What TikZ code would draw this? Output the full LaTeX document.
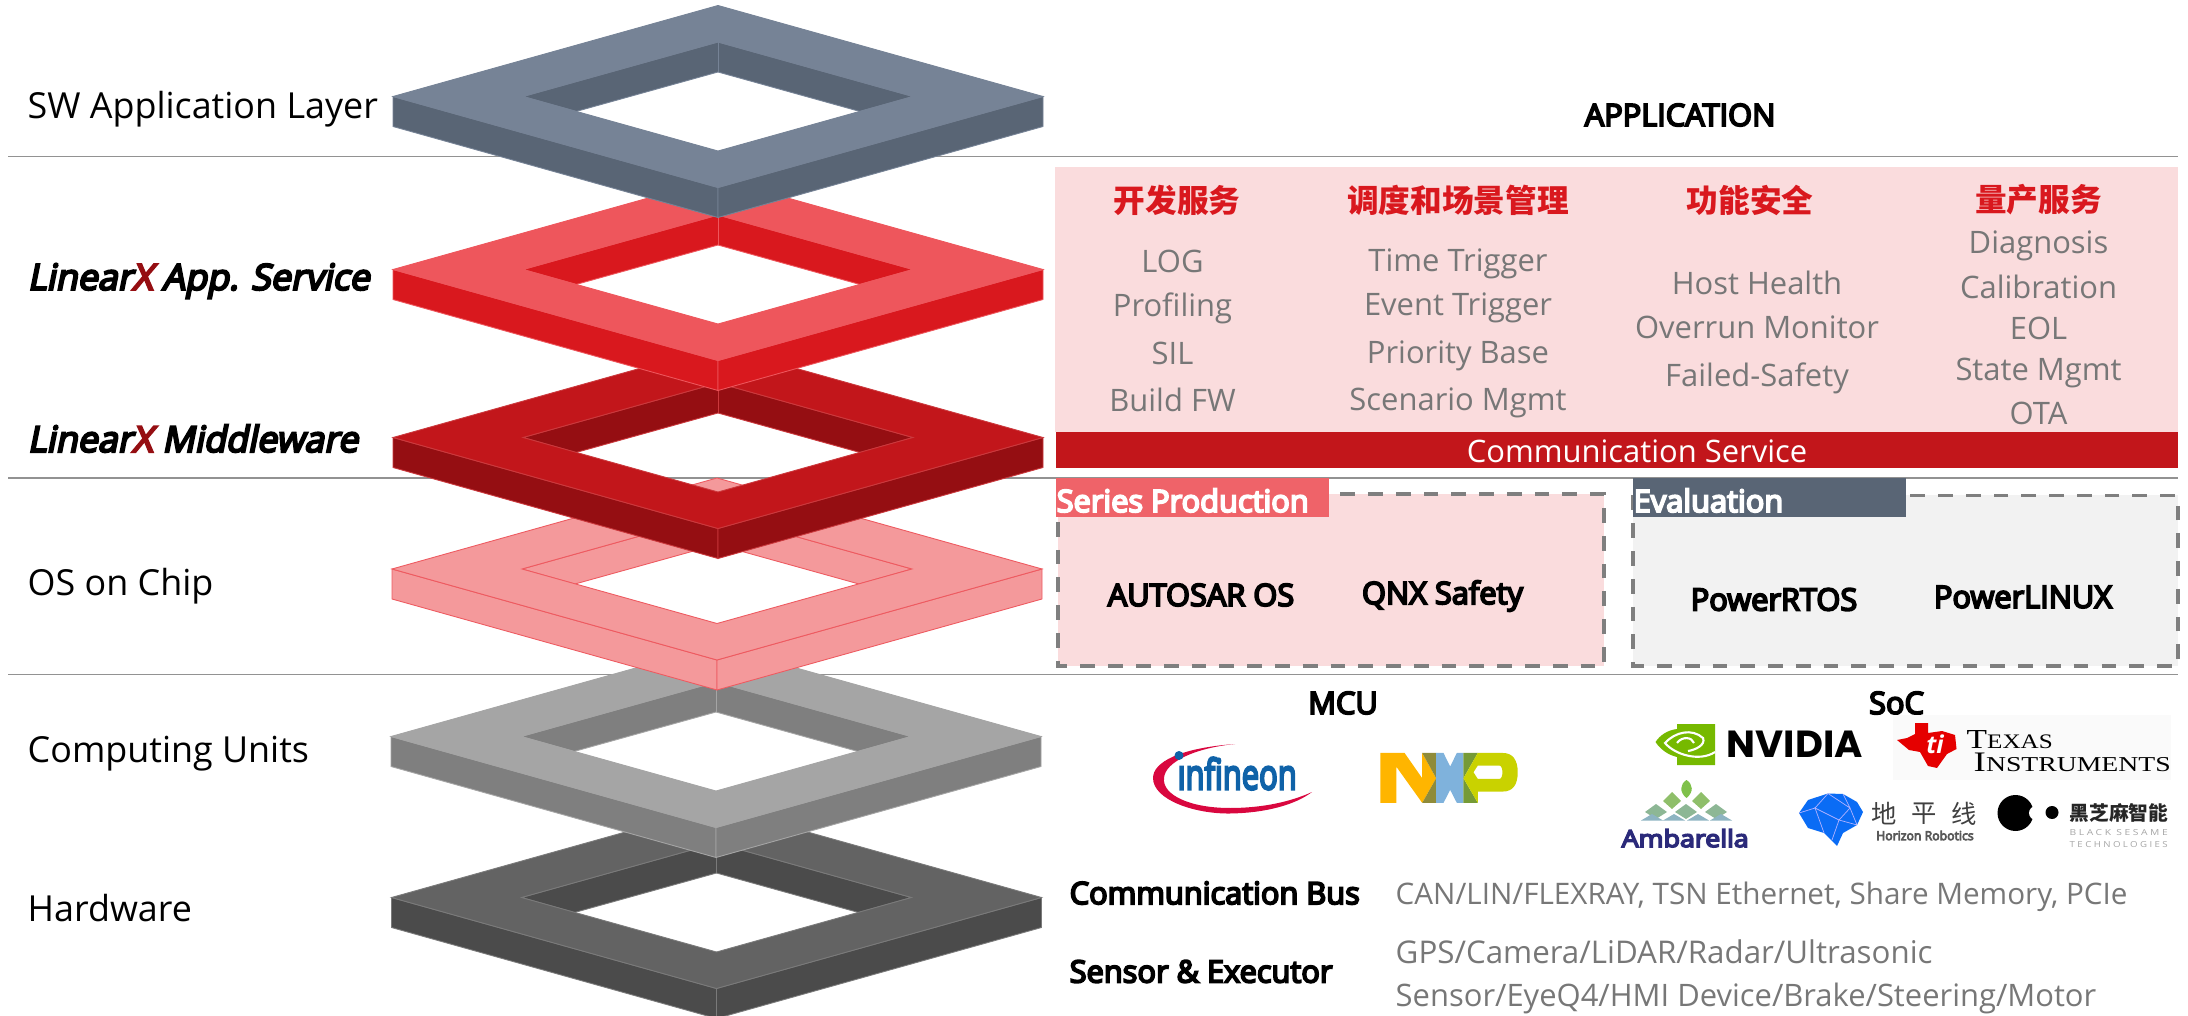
\documentclass[tikz,border=0pt]{standalone}
\usepackage{fontspec}
\usepackage{graphicx}
\setmainfont{Open Sans}
\newfontfamily\cjk{Noto Sans CJK SC}
\newfontfamily\logoserif{Liberation Serif}
\newfontfamily\logowide{Poppins}
\newfontfamily\logotrack[LetterSpace=25]{Open Sans}
\newfontfamily\fakebold[FakeBold=6]{Open Sans}
\newfontfamily\fakeslant[FakeBold=6,FakeSlant=0.2]{Open Sans}
\definecolor{slatetop}{HTML}{768396}
\definecolor{slateside}{HTML}{596575}
\definecolor{redtop}{HTML}{EE565C}
\definecolor{redside}{HTML}{D9181E}
\definecolor{darktop}{HTML}{C2161B}
\definecolor{darkside}{HTML}{950E12}
\definecolor{pinktop}{HTML}{F4999B}
\definecolor{pinkedge}{HTML}{EE5A60}
\definecolor{greytop}{HTML}{A5A5A5}
\definecolor{greyside}{HTML}{7F7F7F}
\definecolor{coaltop}{HTML}{636363}
\definecolor{coalside}{HTML}{4B4B4B}
\definecolor{panelpink}{HTML}{FADCDD}
\definecolor{panelgrey}{HTML}{F2F2F2}
\definecolor{itemgrey}{HTML}{777777}
\definecolor{tabred}{HTML}{EF6369}
\definecolor{nxporange}{HTML}{FFB500}
\definecolor{nxpolive}{HTML}{8F8B3A}
\definecolor{nxpblue}{HTML}{7FB2DC}
\definecolor{nxpgreen}{HTML}{759A36}
\definecolor{nxplime}{HTML}{C9D200}
\definecolor{infred}{HTML}{D9073F}
\definecolor{infblue}{HTML}{0F62A8}
\definecolor{nvgreen}{HTML}{76B900}
\definecolor{ambnavy}{HTML}{2B2A7A}
\definecolor{ambtop}{HTML}{7FC14A}
\definecolor{ambmid}{HTML}{8FBF6A}
\definecolor{ambrow}{HTML}{8DB795}
\definecolor{ambbase}{HTML}{8DB4C2}
\definecolor{horblue}{HTML}{0A6CF5}
\newlength\pxu
\setlength\pxu{0.01cm}
\newcommand{\logotext}[3]{\resizebox{#1\pxu}{#2\pxu}{#3}}
% one ring: centre x, centre y, top colour, side colour, edge colour
\newcommand{\ringlayer}[5]{%
	\begin{scope}[shift={(#1,#2)},line width=.25pt,draw=#5]
		\filldraw[fill=#4] (-195,0)--(0,-54.5)--(195,0)--(142,15)--(0,-24.5)--(-142,15)--cycle;
		\draw (0,-54.5)--(0,-24.5);
		\filldraw[fill=#4] (-325,0)--(0,91)--(0,121)--(-325,30)--cycle;
		\filldraw[fill=#4] (325,0)--(0,91)--(0,121)--(325,30)--cycle;
		\filldraw[fill=#3,even odd rule] (-325,0)--(0,-91)--(325,0)--(0,91)--cycle (-195,0)--(0,-54.5)--(195,0)--(0,54.5)--cycle;
	\end{scope}}
\tikzset{
	layername/.style={anchor=west,inner sep=0pt,font=\fontsize{10.2}{12}\selectfont},
	layerbold/.style={layername,font=\fontsize{10.2}{12}\selectfont\fakeslant},
	item/.style={inner sep=0pt,text=itemgrey,font=\fontsize{8.8}{11}\selectfont},
	head/.style={inner sep=0pt,text=redside,font=\fontsize{9}{11}\selectfont\cjk\bfseries},
	strong/.style={inner sep=0pt,font=\fontsize{8.75}{11}\selectfont\fakebold},
	tabtext/.style={anchor=west,inner sep=0pt,text=white,font=\fontsize{8.75}{11}\selectfont\fakebold},
	dashbox/.style={draw=greyside,line width=1pt,dash pattern=on 4.2pt off 3.7pt},
	logo/.style={anchor=south west,inner sep=0pt}
}
\begin{document}
\begin{tikzpicture}[x=0.01cm,y=-0.01cm]
	\useasboundingbox (0,0) rectangle (2188,1016);
	%LINES
	\draw[greyside!85,line width=.5pt] (8,156.5)--(2178,156.5);
	\draw[greyside!85,line width=.5pt] (8,478)--(2178,478);
	\draw[greyside!85,line width=.5pt] (8,674.5)--(2178,674.5);
	%RINGS, lowest first
	\begin{scope}
		\clip (0,0) rectangle (2188,1016);
		\ringlayer{716.5}{897.5}{coaltop}{coalside}{coaltop!85!white}
	\end{scope}
	\ringlayer{716}{736.5}{greytop}{greyside}{greytop}
	\ringlayer{717}{569}{pinktop}{pinktop}{pinkedge}
	\ringlayer{718}{437.5}{darktop}{darkside}{darktop!85!white}
	\ringlayer{718}{269.5}{redtop}{redside}{redtop}
	\ringlayer{718}{96.5}{slatetop}{slateside}{slatetop}
	%LEFT NAMES
	\node[layername] (swname) at (27,109.5) {SW Application Layer};
	\node[layerbold] (appname) at (27,281) {Linear{\color{darkside}X} App. Service};
	\node[layerbold] (midname) at (27,438.5) {Linear{\color{darkside}X} Middleware};
	\node[layername] (osname) at (27,586.5) {OS on Chip};
	\node[layername] (cuname) at (27,753.5) {Computing Units};
	\node[layername] (hwname) at (27,908) {Hardware};
	%APPLICATION
	\node[strong] (apptitle) at (1680,115) {APPLICATION};
	%SERVICES
	\fill[panelpink] (1055,167) rectangle (2178,432);
	\fill[darktop] (1056,432) rectangle (2178,468.5);
	\node[inner sep=0pt,text=white,font=\fontsize{8.8}{11}\selectfont] (commsrv) at (1637,451) {Communication Service};
	\node[head] (headdev) at (1177,200) {开发服务};
	\node[head] (headsched) at (1458,200) {调度和场景管理};
	\node[head] (headsafe) at (1750,200) {功能安全};
	\node[head] (headprod) at (2038.5,200) {量产服务};
	\node[item] (log) at (1172.5,261.5) {LOG};
	\node[item] (prof) at (1172.5,308) {Profiling};
	\node[item] (sil) at (1172.5,353.5) {SIL};
	\node[item] (build) at (1172.5,399.5) {Build FW};
	\node[item] (timetrig) at (1458,264) {Time Trigger};
	\node[item] (eventtrig) at (1458,307.5) {Event Trigger};
	\node[item] (prio) at (1458,356) {Priority Base};
	\node[item] (scen) at (1458,403) {Scenario Mgmt};
	\node[item] (host) at (1757,283) {Host Health};
	\node[item] (overrun) at (1757,327.5) {Overrun Monitor};
	\node[item] (failed) at (1757,378.5) {Failed-Safety};
	\node[item] (diag) at (2038.5,246) {Diagnosis};
	\node[item] (calib) at (2038.5,286.5) {Calibration};
	\node[item] (eol) at (2038.5,328.5) {EOL};
	\node[item] (state) at (2038.5,373) {State Mgmt};
	\node[item] (ota) at (2038.5,413) {OTA};
	%OS BOXES
	\filldraw[fill=panelpink,dashbox] (1058,494) rectangle (1604,666);
	\fill[tabred] (1056,478) rectangle (1329,517);
	\node[tabtext] (seriestab) at (1056,500.5) {Series Production};
	\node[strong] (autosar) at (1201,595) {AUTOSAR OS};
	\node[strong] (qnx) at (1442.5,596) {QNX Safety};
	\filldraw[fill=panelgrey,dashbox] (1633,495.5) rectangle (2178,666);
	\fill[slateside] (1633,478) rectangle (1906,517);
	\node[tabtext] (evaltab) at (1633,500.5) {Evaluation};
	\node[strong] (rtos) at (1774,599.5) {PowerRTOS};
	\node[strong] (linux) at (2023,597) {PowerLINUX};
	%CHIPS
	\node[strong] (mcu) at (1343,703) {MCU};
	\node[strong] (soc) at (1896.5,703) {SoC};
	%infineon
	\fill[infred] (1235,744) .. controls (1180,748) and (1153,762) .. (1153,778) .. controls (1153,800) and (1195,814) .. (1230,813.5) .. controls (1265,813) and (1295,805) .. (1312,792) .. controls (1290,802) and (1262,808) .. (1230,808) .. controls (1190,808) and (1162,795) .. (1164,778) .. controls (1165,762) and (1195,748) .. (1235,744) -- cycle;
	\fill[infblue] (1179,755.5) circle (4.5);
	\node[logo,text=infblue] (infineon) at (1177,790.5) {\logotext{119}{32}{\fakebold ınfineon}};
	%NXP
	\begin{scope}[shift={(1130,725)},x=0.00333cm,y=-0.00333cm]
		\fill[nxporange] (752,84)--(825,84)--(878,160)--(878,84)--(920,160)--(878,234)--(800,125)--(800,234)--(752,234)--cycle;
		\fill[nxpolive] (878,84)--(920,84)--(920,160)--cycle (878,234)--(920,160)--(920,234)--cycle;
		\fill[nxpblue] (920,84)--(942,84)--(962,125)--(982,84)--(1002,84)--(1002,234)--(982,234)--(962,195)--(942,234)--(920,234)--cycle;
		\fill[nxpgreen] (1002,84)--(1045,84)--(1002,160)--cycle (1002,160)--(1045,234)--(1002,234)--cycle;
		\fill[nxplime,even odd rule] (1002,160)--(1045,84)--(1120,84) .. controls (1150,84) and (1165,105) .. (1165,142) .. controls (1165,180) and (1150,200) .. (1120,200)--(1045,200)--(1045,234)--cycle (1045,122)--(1110,122) .. controls (1122,122) and (1122,162) .. (1110,162)--(1045,162)--(1032,142)--cycle;
	\end{scope}
	%NVIDIA
	\fill[nvgreen] (1677,724)--(1715,724)--(1715,765)--(1677,765)--(1677,757) .. controls (1668,755) and (1660,749) .. (1655.5,742) .. controls (1660,735) and (1668,730) .. (1677,729)--cycle;
	\draw[white,line width=.6pt] (1715,752) .. controls (1700,762) and (1675,755) .. (1665,743) .. controls (1675,732) and (1692,728) .. (1703,738) .. controls (1706,745) and (1695,750) .. (1688,751);
	\draw[white,line width=.6pt] (1677,743) .. controls (1682,736) and (1692,737) .. (1694,743);
	\node[logo] (nvidia) at (1726,758.5) {\logotext{136}{26.5}{\logowide\bfseries NVIDIA}};
	%TI
	\fill[black!2] (1893,715) rectangle (2171,779.5);
	\fill[red!90!black] (1915,723)--(1928,723)--(1928,733)--(1942,731)--(1955,735)--(1956.5,749)--(1947,754)--(1937,768)--(1928,766)--(1920,752)--(1909,750)--(1897,740)--(1907,738)--(1915,734)--cycle;
	\node[inner sep=0pt,text=white,font=\fontsize{7}{8}\selectfont\bfseries\itshape] (tilogo) at (1935,744) {ti};
	\node[logo] (texas) at (1966,749) {\logotext{86}{18}{\logoserif T{\fontsize{7.5}{8}\selectfont EXAS}}};
	\node[logo] (instr) at (1973,772.5) {\logotext{197}{18.5}{\logoserif I{\fontsize{7.5}{8}\selectfont NSTRUMENTS}}};
	%Ambarella
	\fill[ambtop] (1686.5,780) .. controls (1693,784) and (1694,792) .. (1686.5,798) .. controls (1679,792) and (1680,784) .. (1686.5,780)--cycle;
	\foreach \leafx in {1672,1701}
		\fill[ambmid] (\leafx,792)--(\leafx+9,801)--(\leafx,809)--(\leafx-9,801)--cycle;
	\foreach \leafx in {1656,1686,1716}
		\fill[ambrow] (\leafx,804)--(\leafx+11,812)--(\leafx,819)--(\leafx-11,812)--cycle;
	\foreach \leafx in {1652,1674,1698,1721}
		\fill[ambbase] (\leafx-11,820.5)--(\leafx,814)--(\leafx+11,820.5)--cycle;
	\node[logo,text=ambnavy] (ambarella) at (1621,848) {\logotext{127}{18}{\fakebold Ambarella}};
	%Horizon
	\fill[horblue] (1828,793.5)--(1843,794)--(1857,802)--(1863,812)--(1857,825)--(1843,833)--(1837,846)--(1824,833)--(1808,828)--(1799,813)--(1808,800)--cycle;
	\draw[white!70!blue,line width=.2pt] (1815,808)--(1828,793.5)--(1850,808)--(1839,820)--(1815,808)--(1824,833) (1839,820)--(1832,840) (1850,808)--(1857,825) (1850,808)--(1843,794) (1815,808)--(1799,813) (1839,820)--(1857,825);
	\node[inner sep=0pt,text=black!75,font=\fontsize{7.2}{8}\selectfont\cjk] (horizon1) at (1884.5,814) {地};
	\node[inner sep=0pt,text=black!75,font=\fontsize{7.2}{8}\selectfont\cjk] (horizon2) at (1924.5,814) {平};
	\node[inner sep=0pt,text=black!75,font=\fontsize{7.2}{8}\selectfont\cjk] (horizon3) at (1964.5,814) {线};
	\node[logo,text=black!65] (horizon) at (1875.5,841) {\logotext{97.5}{9.5}{\fakebold Horizon Robotics}};
	%Black Sesame
	\fill (2015.5,813) circle (18);
	\fill[white] (2036,813) circle (7);
	\fill (2052,812.5) circle (6.5);
	\node[inner sep=0pt,text=black!85,font=\fontsize{5.6}{7}\selectfont\cjk\bfseries] (sesamecn) at (2119,812.5) {黑芝麻智能};
	\node[logo,text=black!35] (sesame1) at (2069,836) {\logotext{98}{6}{\logotrack BLACK SESAME}};
	\node[logo,text=black!35] (sesame2) at (2069,848) {\logotext{98}{6}{\logotrack TECHNOLOGIES}};
	%BUS AND SENSOR
	\node[strong,anchor=west] (bus) at (1069,893) {Communication Bus};
	\node[item,anchor=west,font=\fontsize{8.43}{11}\selectfont] (buslist) at (1395,896.5) {CAN/LIN/FLEXRAY, TSN Ethernet, Share Memory, PCIe};
	\node[strong,anchor=west] (sensor) at (1069,971.5) {Sensor \& Executor};
	\node[item,anchor=west,font=\fontsize{8.9}{11}\selectfont] (sensorlist1) at (1395,952) {GPS/Camera/LiDAR/Radar/Ultrasonic};
	\node[item,anchor=west,font=\fontsize{8.8}{11}\selectfont] (sensorlist2) at (1395,998.5) {Sensor/EyeQ4/HMI Device/Brake/Steering/Motor};
\end{tikzpicture}
\end{document}
